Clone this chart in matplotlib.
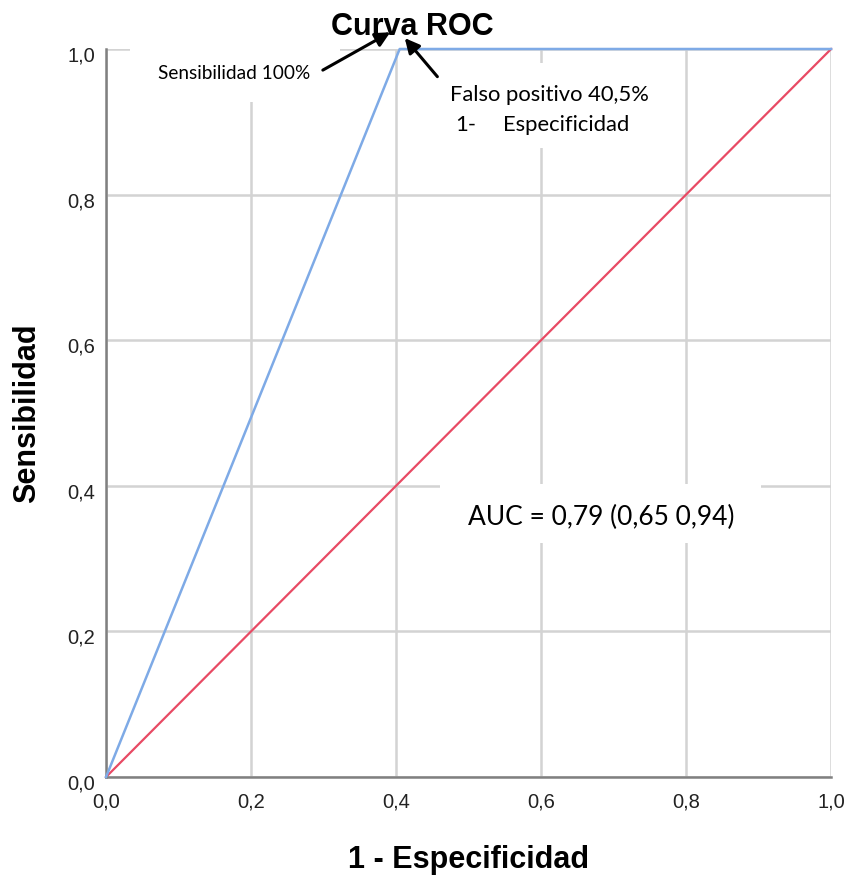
import matplotlib
matplotlib.use('Agg')
import matplotlib.pyplot as plt
import matplotlib.transforms as mtransforms
from matplotlib.patches import Rectangle

# ROC curve
fpr = [0.0, 0.405, 1.0]
tpr = [0.0, 1.0, 1.0]
ref_x = [0.0, 1.0]
ref_y = [0.0, 1.0]

ticks = [0.0, 0.2, 0.4, 0.6, 0.8, 1.0]
tick_labels = ['0,0', '0,2', '0,4', '0,6', '0,8', '1,0']

title = 'Curva ROC'
xlabel = '1 - Especificidad'
ylabel = 'Sensibilidad'
auc_text = 'AUC = 0,79 (0,65 0,94)'

fig = plt.figure(figsize=(8.49, 8.75), dpi=100)
ax = fig.add_axes([0.1249, 0.112, 0.854, 0.832])

ax.set_xlim(0, 1)
ax.set_ylim(0, 1)
ax.set_xticks(ticks)
ax.set_yticks(ticks)
ax.set_xticklabels(tick_labels, fontfamily='Liberation Sans', fontsize=14.5, color='#222222')
ax.set_yticklabels(tick_labels, fontfamily='Liberation Sans', fontsize=14.5, color='#222222')
ax.tick_params(axis='x', length=0, pad=11)
ax.tick_params(axis='y', length=0, pad=8)
shift = mtransforms.ScaledTranslation(0, -5 / 100, fig.dpi_scale_trans)
for lab in ax.get_yticklabels():
    lab.set_transform(lab.get_transform() + shift)

ax.set_axisbelow(True)
ax.grid(True, color='#d3d3d3', linewidth=1.8)
for side in ['top', 'right']:
    ax.spines[side].set_visible(False)
for side in ['left', 'bottom']:
    ax.spines[side].set_color('#808080')
    ax.spines[side].set_linewidth(1.8)

# white boxes behind the pasted labels (they hide the grid)
boxes = [(0.033, 0.927, 0.29, 0.10), (0.462, 0.864, 0.30, 0.117), (0.461, 0.322, 0.442, 0.08)]
for bx, by, bw, bh in boxes:
    ax.add_patch(Rectangle((bx, by), bw, bh, facecolor='white', edgecolor='none',
                           zorder=1, clip_on=False))

ax.plot(fpr, tpr, color='#7eaae6', linewidth=1.8, zorder=3, clip_on=False)
ax.plot(ref_x, ref_y, color='#e84a64', linewidth=1.6, zorder=2, clip_on=False)

fig.text(412 / 849, 1 - 35 / 875, title, fontfamily='Liberation Sans', fontweight='bold',
         fontsize=22, ha='center', va='baseline')
ax.set_xlabel(xlabel, fontfamily='Liberation Sans', fontweight='bold', fontsize=22, labelpad=24)
ax.set_ylabel(ylabel, fontfamily='Liberation Sans', fontweight='bold', fontsize=22, labelpad=18)

arrow = dict(arrowstyle='-|>', color='black', lw=2.2, mutation_scale=22, shrinkA=0, shrinkB=0)
ax.annotate('', xy=(0.392, 1.023), xytext=(0.299, 0.971), annotation_clip=False, arrowprops=arrow)
ax.annotate('', xy=(0.412, 1.015), xytext=(0.457, 0.962), annotation_clip=False, arrowprops=arrow)

ax.text(0.072, 0.967, 'Sensibilidad 100%', fontfamily='Lato', fontsize=13.7,
        va='center', ha='left', zorder=4)
ax.text(0.474, 0.937, 'Falso positivo 40,5%', fontfamily='Lato', fontsize=15.8,
        va='center', ha='left', zorder=4)
ax.text(0.481, 0.896, '1-', fontfamily='Lato', fontsize=15.8, va='center', ha='left', zorder=4)
ax.text(0.547, 0.896, 'Especificidad', fontfamily='Lato', fontsize=15.8, va='center',
        ha='left', zorder=4)
ax.text(0.499, 0.357, auc_text, fontfamily='Lato', fontsize=19, va='center',
        ha='left', zorder=4)

fig.savefig('out.png', dpi=100)
